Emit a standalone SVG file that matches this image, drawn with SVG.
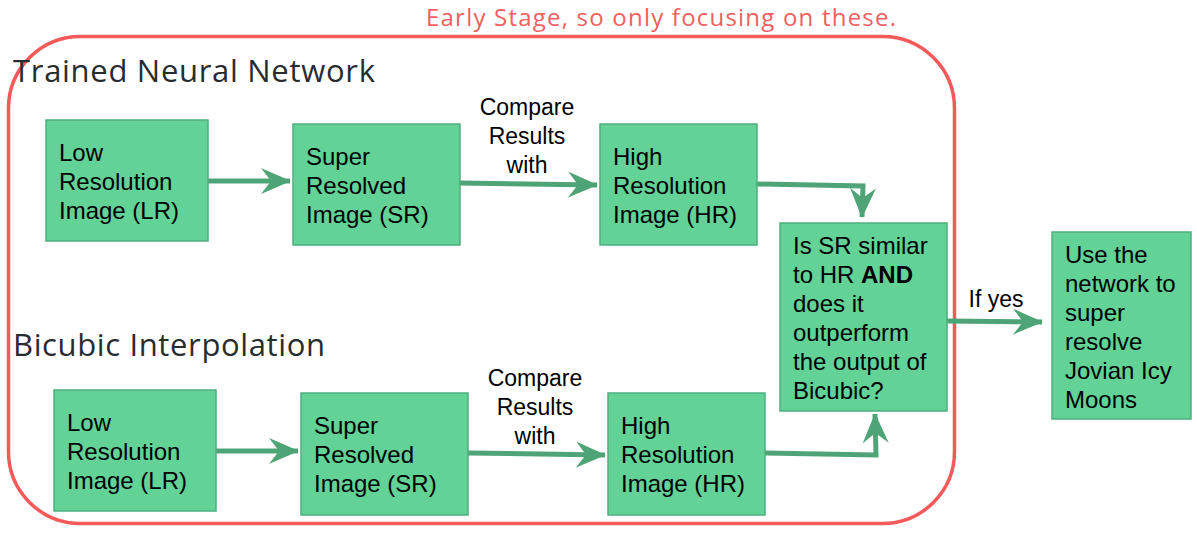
<svg xmlns="http://www.w3.org/2000/svg" width="1197" height="534" viewBox="0 0 1197 534">
<style>
.box{fill:#62d296;stroke:#4fae7e;stroke-width:1.5}
.t{font-family:"Liberation Sans",Arial,sans-serif;font-size:24px;fill:#000}
.lbl{font-family:"Liberation Sans",Arial,sans-serif;font-size:23px;fill:#000;text-anchor:middle}
.h{font-family:"Open Sans",Lato,sans-serif;font-size:31px;fill:#282c30}
.conn{fill:none;stroke:#4ea476;stroke-width:5;marker-end:url(#ah)}
</style>
<defs>
<marker id="ah" markerUnits="userSpaceOnUse" viewBox="0 0 30 26" refX="29" refY="13" markerWidth="30" markerHeight="26" orient="auto">
<path d="M0,0 L30,13 L0,26 L10,13 Z" fill="#4ea476"/>
</marker>
</defs>
<rect width="1197" height="534" fill="#fff"/>
<g id="stage">
<rect x="8.5" y="36.5" width="946" height="487" rx="72" ry="72" fill="none" stroke="#f55a5a" stroke-width="3.5"/>
<text x="426" y="26" font-family="'Open Sans',Lato,sans-serif" font-size="24" fill="#f26060" textLength="470" lengthAdjust="spacing">Early Stage, so only focusing on these.</text>
</g>
<text id="h1" class="h" x="13" y="82" textLength="362" lengthAdjust="spacing">Trained Neural Network</text>
<text id="h2" class="h" x="13" y="356" textLength="312" lengthAdjust="spacing">Bicubic Interpolation</text>
<g id="connectors">
<path class="conn" d="M208,181 L290,181"/>
<path class="conn" d="M460,183 L597,185"/>
<path class="conn" d="M757,184 L863,186 L862,217"/>
<path class="conn" d="M216,451 L298,451"/>
<path class="conn" d="M468,453 L605,455"/>
<path class="conn" d="M765,453 L876,455 L875,414"/>
<path class="conn" d="M947,321 L1042,322"/>
<text class="lbl" x="527" y="115">Compare</text>
<text class="lbl" x="527" y="144">Results</text>
<text class="lbl" x="527" y="173">with</text>
<text class="lbl" x="535" y="386">Compare</text>
<text class="lbl" x="535" y="415">Results</text>
<text class="lbl" x="535" y="444">with</text>
<text class="lbl" x="996" y="307">If yes</text>
</g>
<g id="lr1">
<rect class="box" x="46" y="120" width="162" height="121"/>
<text class="t" x="59" y="161">Low</text>
<text class="t" x="59" y="190">Resolution</text>
<text class="t" x="59" y="219">Image (LR)</text>
</g>
<g id="sr1">
<rect class="box" x="293" y="124" width="167" height="121"/>
<text class="t" x="306" y="165">Super</text>
<text class="t" x="306" y="194">Resolved</text>
<text class="t" x="306" y="223">Image (SR)</text>
</g>
<g id="hr1">
<rect class="box" x="600" y="124" width="157" height="121"/>
<text class="t" x="613" y="165">High</text>
<text class="t" x="613" y="194">Resolution</text>
<text class="t" x="613" y="223">Image (HR)</text>
</g>
<g id="decision">
<rect class="box" x="780" y="223" width="167" height="188"/>
<text class="t" x="793" y="254">Is SR similar</text>
<text class="t" x="793" y="283">to HR <tspan font-weight="bold">AND</tspan></text>
<text class="t" x="793" y="312">does it</text>
<text class="t" x="793" y="341">outperform</text>
<text class="t" x="793" y="370">the output of</text>
<text class="t" x="793" y="399">Bicubic?</text>
</g>
<g id="use">
<rect class="box" x="1052" y="232" width="139" height="187"/>
<text class="t" x="1065" y="263">Use the</text>
<text class="t" x="1065" y="292">network to</text>
<text class="t" x="1065" y="321">super</text>
<text class="t" x="1065" y="350">resolve</text>
<text class="t" x="1065" y="379">Jovian Icy</text>
<text class="t" x="1065" y="408">Moons</text>
</g>
<g id="lr2">
<rect class="box" x="54" y="390" width="162" height="121"/>
<text class="t" x="67" y="431">Low</text>
<text class="t" x="67" y="460">Resolution</text>
<text class="t" x="67" y="489">Image (LR)</text>
</g>
<g id="sr2">
<rect class="box" x="301" y="393" width="167" height="122"/>
<text class="t" x="314" y="434">Super</text>
<text class="t" x="314" y="463">Resolved</text>
<text class="t" x="314" y="492">Image (SR)</text>
</g>
<g id="hr2">
<rect class="box" x="608" y="393" width="157" height="122"/>
<text class="t" x="621" y="434">High</text>
<text class="t" x="621" y="463">Resolution</text>
<text class="t" x="621" y="492">Image (HR)</text>
</g>
</svg>
